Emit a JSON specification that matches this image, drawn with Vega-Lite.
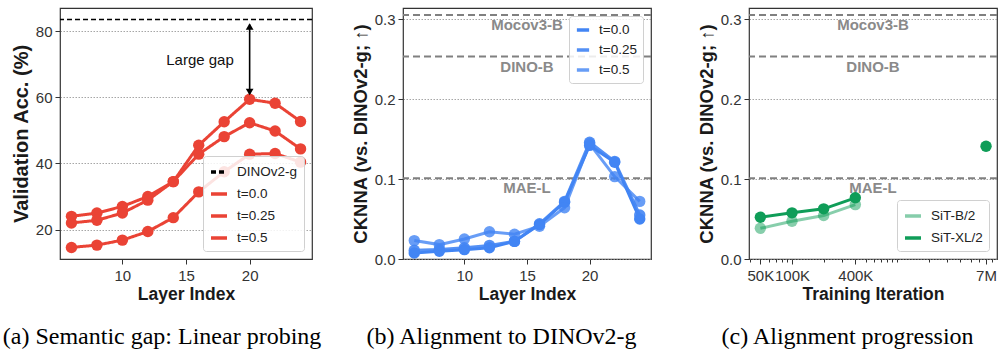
{
  "$schema": "https://vega.github.io/schema/vega-lite/v6.json",
  "background": "white",
  "autosize": {"type": "pad"},
  "padding": {"left": 2, "top": 7, "right": 1, "bottom": 0},
  "bounds": "flush",
  "spacing": 91,
  "resolve": {"scale": {"color": "independent", "opacity": "independent", "strokeDash": "independent", "shape": "independent"}, "legend": {"color": "independent", "opacity": "independent", "strokeDash": "independent", "shape": "independent"}},
  "datasets": {
    "a": [
      {"layer": 6, "acc": 24.0, "series": "t=0.0"}, {"layer": 8, "acc": 25.0, "series": "t=0.0"}, {"layer": 10, "acc": 27.0, "series": "t=0.0"}, {"layer": 12, "acc": 30.0, "series": "t=0.0"}, {"layer": 14, "acc": 34.5, "series": "t=0.0"}, {"layer": 16, "acc": 42.8, "series": "t=0.0"}, {"layer": 18, "acc": 48.1, "series": "t=0.0"}, {"layer": 20, "acc": 52.3, "series": "t=0.0"}, {"layer": 22, "acc": 49.8, "series": "t=0.0"}, {"layer": 24, "acc": 44.4, "series": "t=0.0"},
      {"layer": 6, "acc": 22.0, "series": "t=0.25"}, {"layer": 8, "acc": 22.8, "series": "t=0.25"}, {"layer": 10, "acc": 25.0, "series": "t=0.25"}, {"layer": 12, "acc": 28.9, "series": "t=0.25"}, {"layer": 14, "acc": 34.5, "series": "t=0.25"}, {"layer": 16, "acc": 45.5, "series": "t=0.25"}, {"layer": 18, "acc": 52.6, "series": "t=0.25"}, {"layer": 20, "acc": 59.4, "series": "t=0.25"}, {"layer": 22, "acc": 58.2, "series": "t=0.25"}, {"layer": 24, "acc": 52.7, "series": "t=0.25"},
      {"layer": 6, "acc": 14.6, "series": "t=0.5"}, {"layer": 8, "acc": 15.3, "series": "t=0.5"}, {"layer": 10, "acc": 16.8, "series": "t=0.5"}, {"layer": 12, "acc": 19.4, "series": "t=0.5"}, {"layer": 14, "acc": 23.6, "series": "t=0.5"}, {"layer": 16, "acc": 31.4, "series": "t=0.5"}, {"layer": 18, "acc": 37.5, "series": "t=0.5"}, {"layer": 20, "acc": 42.8, "series": "t=0.5"}, {"layer": 22, "acc": 43.0, "series": "t=0.5"}, {"layer": 24, "acc": 40.4, "series": "t=0.5"}
    ],
    "aref": [{"acc": 83.5, "series": "DINOv2-g"}],
    "arrow": [{"layer": 20, "acc": 61.0, "acc2": 82.0}],
    "arrowhead": [{"layer": 20, "acc": 81.4, "dir": "up"}, {"layer": 20, "acc": 61.6, "dir": "down"}],
    "alabel": [{"layer": 16.1, "acc": 71.4, "label": "Large gap"}],
    "b": [
      {"layer": 6, "v": 0.0075, "series": "t=0.0"}, {"layer": 8, "v": 0.0096, "series": "t=0.0"}, {"layer": 10, "v": 0.0117, "series": "t=0.0"}, {"layer": 12, "v": 0.014, "series": "t=0.0"}, {"layer": 14, "v": 0.022, "series": "t=0.0"}, {"layer": 16, "v": 0.043, "series": "t=0.0"}, {"layer": 18, "v": 0.071, "series": "t=0.0"}, {"layer": 20, "v": 0.142, "series": "t=0.0"}, {"layer": 22, "v": 0.121, "series": "t=0.0"}, {"layer": 24, "v": 0.05, "series": "t=0.0"},
      {"layer": 6, "v": 0.011, "series": "t=0.25"}, {"layer": 8, "v": 0.012, "series": "t=0.25"}, {"layer": 10, "v": 0.014, "series": "t=0.25"}, {"layer": 12, "v": 0.017, "series": "t=0.25"}, {"layer": 14, "v": 0.022, "series": "t=0.25"}, {"layer": 16, "v": 0.044, "series": "t=0.25"}, {"layer": 18, "v": 0.072, "series": "t=0.25"}, {"layer": 20, "v": 0.146, "series": "t=0.25"}, {"layer": 22, "v": 0.122, "series": "t=0.25"}, {"layer": 24, "v": 0.055, "series": "t=0.25"},
      {"layer": 6, "v": 0.023, "series": "t=0.5"}, {"layer": 8, "v": 0.018, "series": "t=0.5"}, {"layer": 10, "v": 0.025, "series": "t=0.5"}, {"layer": 12, "v": 0.034, "series": "t=0.5"}, {"layer": 14, "v": 0.031, "series": "t=0.5"}, {"layer": 16, "v": 0.041, "series": "t=0.5"}, {"layer": 18, "v": 0.064, "series": "t=0.5"}, {"layer": 20, "v": 0.144, "series": "t=0.5"}, {"layer": 22, "v": 0.103, "series": "t=0.5"}, {"layer": 24, "v": 0.072, "series": "t=0.5"}
    ],
    "refs": [{"name": "Mocov3-B", "v": 0.305}, {"name": "DINO-B", "v": 0.253}, {"name": "MAE-L", "v": 0.101}],
    "c": [
      {"iter": 50000, "v": 0.0384, "series": "SiT-B/2", "seg": "B"}, {"iter": 100000, "v": 0.0472, "series": "SiT-B/2", "seg": "B"}, {"iter": 200000, "v": 0.0543, "series": "SiT-B/2", "seg": "B"}, {"iter": 400000, "v": 0.068, "series": "SiT-B/2", "seg": "B"},
      {"iter": 50000, "v": 0.0522, "series": "SiT-XL/2", "seg": "XL"}, {"iter": 100000, "v": 0.0577, "series": "SiT-XL/2", "seg": "XL"}, {"iter": 200000, "v": 0.0627, "series": "SiT-XL/2", "seg": "XL"}, {"iter": 400000, "v": 0.0765, "series": "SiT-XL/2", "seg": "XL"}, {"iter": 7000000, "v": 0.141, "series": "SiT-XL/2", "seg": "XL7M"}
    ]
  },
  "hconcat": [
    {
      "width": 252,
      "height": 251,
      "title": {"text": "(a) Semantic gap: Linear probing"},
      "layer": [
        {
          "data": {"name": "aref"},
          "mark": {"type": "rule", "strokeWidth": 1.6},
          "encoding": {
            "y": {"field": "acc", "type": "quantitative", "scale": {"domain": [11.1, 87.0], "nice": false, "zero": false}, "axis": {"title": "Validation Acc. (%)", "values": [20, 40, 60, 80]}},
            "color": {"field": "series", "type": "nominal", "scale": {"domain": ["DINOv2-g", "t=0.0", "t=0.25", "t=0.5"], "range": ["#000000", "#EA4335", "#EA4335", "#EA4335"]}, "legend": {"orient": "bottom-right"}},
            "opacity": {"field": "series", "type": "nominal", "scale": {"domain": ["DINOv2-g", "t=0.0", "t=0.25", "t=0.5"], "range": [1, 1, 0.8, 0.5]}},
            "strokeDash": {"field": "series", "type": "nominal", "scale": {"domain": ["DINOv2-g", "t=0.0", "t=0.25", "t=0.5"], "range": [[5, 3], [1, 0], [1, 0], [1, 0]]}}
          }
        },
        {
          "data": {"name": "a"},
          "mark": {"type": "line", "strokeWidth": 3},
          "encoding": {
            "x": {"field": "layer", "type": "quantitative", "scale": {"domain": [5.1, 24.9], "nice": false, "zero": false}, "axis": {"title": "Layer Index", "values": [10, 15, 20]}},
            "y": {"field": "acc", "type": "quantitative"},
            "color": {"field": "series", "type": "nominal"},
            "opacity": {"field": "series", "type": "nominal"},
            "strokeDash": {"field": "series", "type": "nominal"}
          }
        },
        {
          "data": {"name": "a"},
          "mark": {"type": "point", "filled": true, "size": 130},
          "encoding": {
            "x": {"field": "layer", "type": "quantitative"},
            "y": {"field": "acc", "type": "quantitative"},
            "color": {"field": "series", "type": "nominal"},
            "opacity": {"field": "series", "type": "nominal"}
          }
        },
        {
          "data": {"name": "arrow"},
          "mark": {"type": "rule", "strokeWidth": 1.6, "color": "black"},
          "encoding": {
            "x": {"field": "layer", "type": "quantitative"},
            "y": {"field": "acc", "type": "quantitative"},
            "y2": {"field": "acc2"}
          }
        },
        {
          "data": {"name": "arrowhead"},
          "mark": {"type": "point", "filled": true, "color": "black", "opacity": 1, "size": 60},
          "encoding": {
            "x": {"field": "layer", "type": "quantitative"},
            "y": {"field": "acc", "type": "quantitative"},
            "shape": {"field": "dir", "type": "nominal", "scale": {"domain": ["up", "down"], "range": ["triangle-up", "triangle-down"]}, "legend": null}
          }
        },
        {
          "data": {"name": "alabel"},
          "mark": {"type": "text", "fontSize": 15, "color": "#111", "font": "Liberation Sans"},
          "encoding": {
            "x": {"field": "layer", "type": "quantitative"},
            "y": {"field": "acc", "type": "quantitative"},
            "text": {"field": "label"}
          }
        }
      ]
    },
    {
      "bounds": "flush",
      "spacing": 98,
      "resolve": {"scale": {"color": "independent", "opacity": "independent", "strokeDash": "independent"}, "legend": {"color": "independent", "opacity": "independent", "strokeDash": "independent"}},
      "hconcat": [
        {
          "width": 248,
          "height": 251,
          "title": {"text": "(b) Alignment to DINOv2-g"},
          "layer": [
            {
              "data": {"name": "refs"},
              "mark": {"type": "rule", "strokeWidth": 2, "color": "#808080", "strokeDash": [7, 4]},
              "encoding": {
                "y": {"field": "v", "type": "quantitative", "scale": {"domain": [0, 0.31375], "nice": false}, "axis": {"title": "CKNNA (vs. DINOv2-g; ↑)", "titleFontSize": 18.5, "values": [0, 0.1, 0.2, 0.3], "format": ".1f"}}
              }
            },
            {
              "data": {"name": "refs"},
              "mark": {"type": "text", "fontSize": 15, "fontWeight": "bold", "color": "#8a8a8a", "baseline": "top", "dy": 3, "font": "Liberation Sans"},
              "encoding": {
                "x": {"datum": 15},
                "y": {"field": "v", "type": "quantitative"},
                "text": {"field": "name"}
              }
            },
            {
              "data": {"name": "b"},
              "mark": {"type": "line", "strokeWidth": 3},
              "encoding": {
                "x": {"field": "layer", "type": "quantitative", "scale": {"domain": [5.1, 24.9], "nice": false, "zero": false}, "axis": {"title": "Layer Index", "values": [10, 15, 20]}},
                "y": {"field": "v", "type": "quantitative"},
                "color": {"field": "series", "type": "nominal", "scale": {"domain": ["t=0.0", "t=0.25", "t=0.5"], "range": ["#4285F4", "#4285F4", "#4285F4"]}, "legend": {"orient": "top-right", "symbolSize": 150}},
                "opacity": {"field": "series", "type": "nominal", "scale": {"domain": ["t=0.0", "t=0.25", "t=0.5"], "range": [1, 0.8, 0.55]}}
              }
            },
            {
              "data": {"name": "b"},
              "mark": {"type": "point", "filled": true, "size": 130},
              "encoding": {
                "x": {"field": "layer", "type": "quantitative"},
                "y": {"field": "v", "type": "quantitative"},
                "color": {"field": "series", "type": "nominal"},
                "opacity": {"field": "series", "type": "nominal"}
              }
            }
          ]
        },
        {
          "width": 248,
          "height": 251,
          "title": {"text": "(c) Alignment progression"},
          "layer": [
            {
              "data": {"name": "refs"},
              "mark": {"type": "rule", "strokeWidth": 2, "color": "#808080", "strokeDash": [7, 4]},
              "encoding": {
                "y": {"field": "v", "type": "quantitative", "scale": {"domain": [0, 0.31375], "nice": false}, "axis": {"title": "CKNNA (vs. DINOv2-g; ↑)", "titleFontSize": 18.5, "values": [0, 0.1, 0.2, 0.3], "format": ".1f"}}
              }
            },
            {
              "data": {"name": "refs"},
              "mark": {"type": "text", "fontSize": 15, "fontWeight": "bold", "color": "#8a8a8a", "baseline": "top", "dy": 3, "font": "Liberation Sans"},
              "encoding": {
                "x": {"datum": 589000},
                "y": {"field": "v", "type": "quantitative"},
                "text": {"field": "name"}
              }
            },
            {
              "data": {"name": "c"},
              "mark": {"type": "line", "strokeWidth": 3},
              "encoding": {
                "x": {"field": "iter", "type": "quantitative", "scale": {"type": "log", "domain": [39000, 8900000], "nice": false}, "axis": {"title": "Training Iteration", "labelOverlap": false, "values": [40000, 50000, 60000, 70000, 80000, 90000, 100000, 200000, 300000, 400000, 500000, 600000, 700000, 800000, 900000, 1000000, 2000000, 3000000, 4000000, 5000000, 6000000, 7000000, 8000000], "labelExpr": "datum.value == 50000 ? '50K' : datum.value == 100000 ? '100K' : datum.value == 400000 ? '400K' : datum.value == 7000000 ? '7M' : ''", "tickSize": {"condition": {"test": "indexof([50000, 100000, 400000, 7000000], datum.value) >= 0", "value": 5}, "value": 3}}},
                "y": {"field": "v", "type": "quantitative"},
                "detail": {"field": "seg"},
                "color": {"field": "series", "type": "nominal", "scale": {"domain": ["SiT-B/2", "SiT-XL/2"], "range": ["#0F9D58", "#0F9D58"]}, "legend": {"orient": "bottom-right"}},
                "opacity": {"field": "series", "type": "nominal", "scale": {"domain": ["SiT-B/2", "SiT-XL/2"], "range": [0.5, 1]}}
              }
            },
            {
              "data": {"name": "c"},
              "mark": {"type": "point", "filled": true, "size": 130},
              "encoding": {
                "x": {"field": "iter", "type": "quantitative"},
                "y": {"field": "v", "type": "quantitative"},
                "color": {"field": "series", "type": "nominal"},
                "opacity": {"field": "series", "type": "nominal"}
              }
            }
          ]
        }
      ]
    }
  ],
  "config": {
    "font": "Liberation Sans",
    "view": {"stroke": "#333333", "strokeWidth": 1.2},
    "axis": {"domain": false, "tickColor": "#333333", "tickSize": 5, "tickWidth": 1, "labelFont": "Liberation Sans", "labelFontSize": 15, "labelColor": "#333333", "titleFont": "Liberation Sans", "titleFontWeight": "bold", "titleColor": "#1a1a1a", "grid": false},
    "axisX": {"titleFontSize": 17.5, "labelPadding": 4, "titlePadding": 2},
    "axisY": {"grid": true, "gridDash": [1.5, 1.5], "gridColor": "#8f8f8f", "gridWidth": 0.8, "titleFontSize": 20, "labelPadding": 3, "titlePadding": 4},
    "legend": {"offset": 8, "title": null, "symbolType": "stroke", "symbolStrokeWidth": 3.5, "symbolSize": 256, "labelFont": "Liberation Sans", "labelFontSize": 13.5, "labelColor": "#222222", "labelOffset": 8, "rowPadding": 5, "padding": 6, "strokeColor": "#d0d0d0", "fillColor": "rgba(255,255,255,0.85)", "cornerRadius": 3},
    "title": {"orient": "bottom", "font": "Liberation Serif", "fontSize": 24, "fontWeight": "normal", "color": "#000000", "frame": "bounds", "anchor": "middle", "offset": 22}
  }
}
